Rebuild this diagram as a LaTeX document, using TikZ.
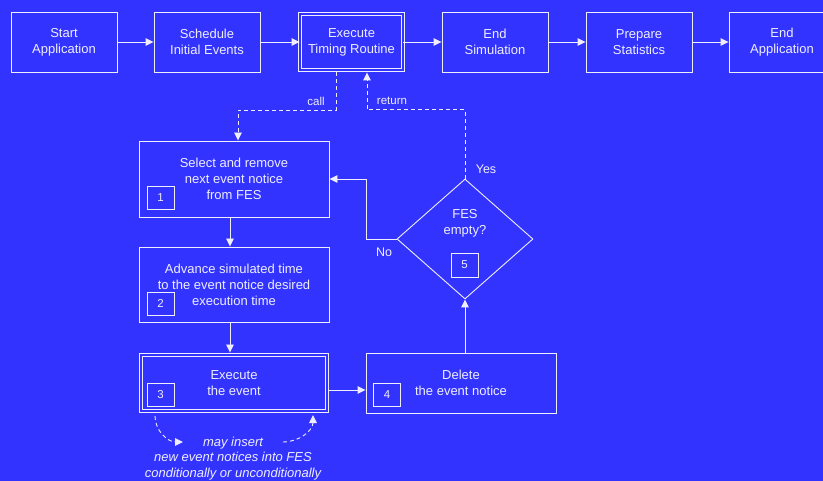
\documentclass[tikz,border=0pt]{standalone}
\usepackage{fontspec}
\setmainfont{Liberation Sans}
\usetikzlibrary{arrows.meta,shapes.geometric,calc}
\definecolor{bg}{RGB}{51,51,255}
\definecolor{ink}{RGB}{238,238,255}
\begin{document}
\begin{tikzpicture}[x=1pt,y=-1pt,
  every node/.style={text=ink,font=\fontsize{13}{16}\selectfont},
  stepbox/.style={draw=ink,line width=0.9pt,inner sep=0pt,align=center,
    minimum width=106pt,minimum height=60pt},
  dblbox/.style={draw=ink,line width=0.9pt,double=bg,double distance=2.6pt,
    inner sep=0pt,align=center},
  numbox/.style={draw=ink,line width=0.9pt,inner sep=0pt,minimum width=27pt,
    minimum height=23pt,font=\fontsize{11.5}{13}\selectfont},
  flow/.style={draw=ink,line width=0.9pt,-{Triangle[length=8pt,width=7.5pt]}},
  dflow/.style={flow,dash pattern=on 4pt off 3pt},
  lbl/.style={font=\fontsize{11.5}{14}\selectfont},
  ans/.style={font=\fontsize{12.5}{15}\selectfont},
]
\useasboundingbox (0,0) rectangle (823,481);
\fill[bg] (0,0) rectangle (823,481);

% main application sequence
\node[stepbox] (s1) at (64,42) {Start\\Application};
\node[stepbox] (s2) at (207,42) {Schedule\\Initial Events};
\node[dblbox,minimum width=103pt,minimum height=56pt] (s3) at (351.5,42) {Execute\\Timing Routine};
\node[stepbox] (s4) at (495,42) {End\\Simulation};
\node[stepbox] (s5) at (639,42) {Prepare\\Statistics};
\node[stepbox] (s6) at (782,42) {End\\Application};
\foreach \a/\b in {s1/s2,s2/s3,s3/s4,s4/s5,s5/s6}
  \draw[flow] (\a.east) -- (\b.west);

% timing routine
\node[stepbox,minimum width=190pt,minimum height=76pt] (b1) at (234,179)
  {Select and remove\\next event notice\\from FES};
\node[stepbox,minimum width=190pt,minimum height=75pt] (b2) at (234,284.5)
  {Advance simulated time\\to the event notice desired\\execution time};
\node[dblbox,minimum width=186pt,minimum height=56pt] (b3) at (234,383)
  {Execute\\the event};
\node[stepbox,minimum width=190pt,minimum height=60pt] (b4) at (461,383)
  {Delete\\the event notice};
\node[diamond,draw=ink,line width=0.9pt,minimum width=136pt,minimum height=120pt,
  inner sep=0pt] (d) at (465,239) {};
\node[align=center] (dt) at (465,223.5) {FES\\empty?};

\node[numbox] (n1) at (160.5,197.5) {1};
\node[numbox] (n2) at (160.5,303.5) {2};
\node[numbox] (n3) at (160.5,395) {3};
\node[numbox] (n4) at (387,395) {4};
\node[numbox,minimum height=24pt] (n5) at (464.5,265) {5};

% call and return
\coordinate (callout) at ($(s3.south)+(-15.5,2)$);
\coordinate (retin) at ($(s3.south)+(15.5,2)$);
\draw[dflow] (callout) -- ++(0,38) -| ($(b1.north)+(4,0)$);
\draw[dflow] (d.north) -- ++(0,-69) -| (retin);
\node[lbl] (lcall) at (316,101) {call};
\node[lbl] (lret) at (392,101) {return};
\node[ans] (lyes) at (486,169) {Yes};
\node[ans] (lno) at (384,252) {No};

% loop connectors
\draw[flow] ($(b1.south)+(-4,0)$) -- ($(b2.north)+(-4,0)$);
\draw[flow] ($(b2.south)+(-4,0)$) -- ($(b3.north)+(-4,-2)$);
\draw[flow] ($(b3.east)+(2,7)$) -- ($(b4.west)+(0,7)$);
\draw[flow] (d.south |- b4.north) -- (d.south);
\draw[flow] (d.west) -- ++(-30,0) |- (b1.east);

% side effect of executing an event
\coordinate (c1) at (155,416);
\coordinate (c2) at (183,442);
\coordinate (c3) at (283,442);
\coordinate (c4) at (313,415);
\draw[dflow] (c1) to[out=-90,in=180] (c2);
\draw[dflow] (c3) to[out=0,in=-90] (c4);
\node[align=center,font=\fontsize{13}{15.5}\selectfont\itshape] (note) at (233,458.5)
  {may insert\\new event notices into FES\\conditionally or unconditionally};
\end{tikzpicture}
\end{document}
